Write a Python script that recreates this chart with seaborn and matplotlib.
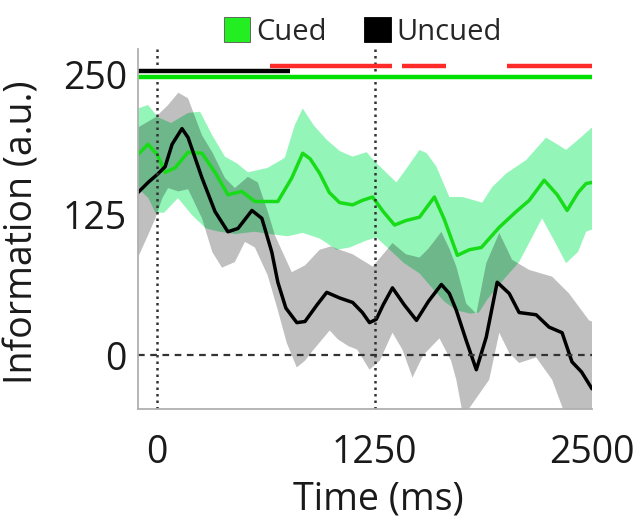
import numpy as np
import seaborn as sns
import matplotlib.pyplot as plt
from matplotlib.patches import Patch

# cued condition (green): mean and band edges, time in ms
cued_t = [-110, -52, 0, 46, 103, 178, 258, 333, 407, 487, 562, 694, 774, 837, 880, 935, 990,
          1049, 1124, 1180, 1239, 1300, 1365, 1430, 1508, 1594, 1651, 1726, 1795, 1864, 1967,
          2064, 2139, 2225, 2300, 2357, 2420, 2466, 2500]
cued_mean = [179, 188, 179, 163, 167, 181, 180, 163, 143, 146, 137, 137, 158, 180, 175, 162, 145,
             136, 134, 138, 141, 128, 116, 120, 123, 141, 121, 89, 94, 96, 114,
             128, 138, 156, 143, 129, 145, 153, 154]
cued_up_t = [-110, -52, 6, 80, 178, 247, 317, 390, 459, 522, 636, 734, 791, 837, 900, 975, 1050,
             1124, 1204, 1262, 1376, 1450, 1508, 1550, 1606, 1680, 1755, 1869, 1927, 2007, 2122,
             2236, 2300, 2351, 2420, 2500]
cued_up = [220, 223, 212, 207, 216, 217, 196, 177, 171, 163, 167, 176, 205, 220, 205, 192, 182,
           177, 181, 171, 154, 170, 183, 180, 168, 141, 141, 136, 150, 162, 174,
           194, 188, 183, 192, 203]
cued_lo_t = [-110, -50, -10, 40, 120, 200, 280, 360, 450, 560, 650, 750, 837, 935, 1032, 1107,
             1200, 1260, 1330, 1420, 1508, 1580, 1650, 1720, 1800, 1850, 1900, 1990, 2081, 2213,
             2290, 2351, 2420, 2466, 2500]
cued_lo = [149, 140, 127, 127, 140, 125, 113, 110, 108, 110, 108, 106, 109, 104, 94, 96,
           102, 105, 95, 82, 73, 60, 48, 40, 37, 38, 50, 67, 83, 122,
           100, 82, 92, 110, 112]

# uncued condition (black)
uncued_t = [-110, -52, 0, 46, 86, 143, 178, 258, 333, 407, 465, 545, 602, 659, 694, 740, 803,
            850, 920, 975, 1049, 1124, 1180, 1221, 1260, 1300, 1353, 1420, 1491, 1560, 1634,
            1680, 1720, 1777, 1835, 1892, 1955, 2024, 2081, 2179, 2253, 2328, 2385, 2440, 2500]
uncued_mean = [145, 154, 161, 168, 188, 202, 194, 158, 128, 110, 113, 129, 122, 92, 65, 42, 29,
               30, 45, 56, 51, 47, 38, 29, 32, 45, 60, 45, 31, 48, 63,
               55, 40, 13, -13, 16, 65, 55, 38, 36, 25, 20, -6, -15, -30]
uncued_up_t = [-110, -10, 63, 122, 178, 258, 317, 390, 447, 522, 579, 636, 677, 774, 850, 935,
               1000, 1049, 1124, 1239, 1300, 1353, 1430, 1508, 1560, 1634, 1680, 1720, 1777,
               1835, 1892, 1967, 2041, 2139, 2271, 2368, 2483, 2500]
uncued_up = [203, 212, 223, 234, 229, 196, 181, 158, 149, 159, 154, 128, 107, 74, 80, 94,
             97, 94, 90, 79, 90, 100, 90, 87, 95, 110, 95, 79, 46,
             37, 82, 109, 85, 76, 70, 55, 31, 30]
uncued_lo_t = [-110, -52, -10, 30, 63, 122, 178, 258, 317, 373, 447, 505, 562, 636, 694, 745,
               803, 850, 895, 992, 1040, 1100, 1150, 1221, 1280, 1353, 1410, 1468, 1530, 1623,
               1690, 1720, 1760, 1909, 1967, 2024, 2081, 2179, 2271, 2350, 2500]
uncued_lo = [87, 107, 122, 140, 149, 146, 148, 122, 92, 78, 83, 101, 96, 71, 40, 11,
             -11, -5, 4, 22, 14, 8, 5, -13, -5, 20, 5, -20, 0, 15,
             -5, -22, -55, -22, 20, 2, -7, -2, -22, -55, -60]

# significance bars (ms)
sig_cued = (-110, 2500)
sig_uncued = (-110, 763)
sig_diff_start = [648, 1405, 2013]
sig_diff_end = [1353, 1663, 2500]

GREEN = "#18dc18"
GREEN_FILL = "#00e85a"


def draw_band(ax, up_t, up, lo_t, lo, color, alpha):
    xs = list(up_t) + list(lo_t)[::-1]
    ys = list(up) + list(lo)[::-1]
    ax.fill(xs, ys, color=color, alpha=alpha, lw=0)


sns.set_style("white")
plt.rcParams["font.family"] = ["Open Sans", "DejaVu Sans"]

fig = plt.figure(figsize=(6.4, 5.25), dpi=100)
ax = fig.add_axes([0.2156, 0.221, 0.7094, 0.6857])

draw_band(ax, cued_up_t, cued_up, cued_lo_t, cued_lo, GREEN_FILL, 0.42)
sns.lineplot(x=cued_t, y=cued_mean, ax=ax, color=GREEN, linewidth=2.5, solid_joinstyle="round")
draw_band(ax, uncued_up_t, uncued_up, uncued_lo_t, uncued_lo, "black", 0.25)
sns.lineplot(x=uncued_t, y=uncued_mean, ax=ax, color="black", linewidth=2.5, solid_joinstyle="round")

# reference lines
ax.axhline(0, color="#333333", lw=1.6, ls=(0, (3, 2.5)))
for x in [0, 1250]:
    ax.axvline(x, color="#333333", lw=1.8, ls=(0, (1, 1.6)))

# significance
ax.hlines(248, *sig_cued, color="#00e000", lw=3.2)
ax.hlines(253, *sig_uncued, color="black", lw=3.2)
ax.hlines([258] * len(sig_diff_start), sig_diff_start, sig_diff_end, color="#ff2a2a", lw=3.2)

ax.set_xlim(-110, 2500)
ax.set_ylim(-48, 273)
ax.set_xticks([0, 1250, 2500])
ax.set_yticks([0, 125, 250])
ax.tick_params(axis="both", length=0, labelsize=27, colors="#1a1a1a")
ax.tick_params(axis="x", pad=18)
ax.tick_params(axis="y", pad=8)
for s in ["top", "right"]:
    ax.spines[s].set_visible(False)
for s in ["left", "bottom"]:
    ax.spines[s].set_color("#b0b0b0")
    ax.spines[s].set_linewidth(1.3)

ax.set_xlabel("Time (ms)", fontsize=27, color="#1a1a1a", labelpad=0)
ax.set_ylabel("Information (a.u.)", fontsize=27, color="#1a1a1a")
ax.xaxis.set_label_coords(0.53, -0.2)
ax.yaxis.set_label_coords(-0.212, 0.49)

handles = [Patch(facecolor="#22ee22", edgecolor="#555555", lw=0.6, label="Cued"),
           Patch(facecolor="black", edgecolor="black", lw=0.6, label="Uncued")]
fig.legend(handles=handles, loc="upper center", bbox_to_anchor=(0.567, 1.0), ncol=2,
           frameon=False, fontsize=21, handlelength=0.9, handleheight=0.9,
           handletextpad=0.2, columnspacing=1.3, borderpad=0.1)

fig.savefig("out.png", dpi=100)
